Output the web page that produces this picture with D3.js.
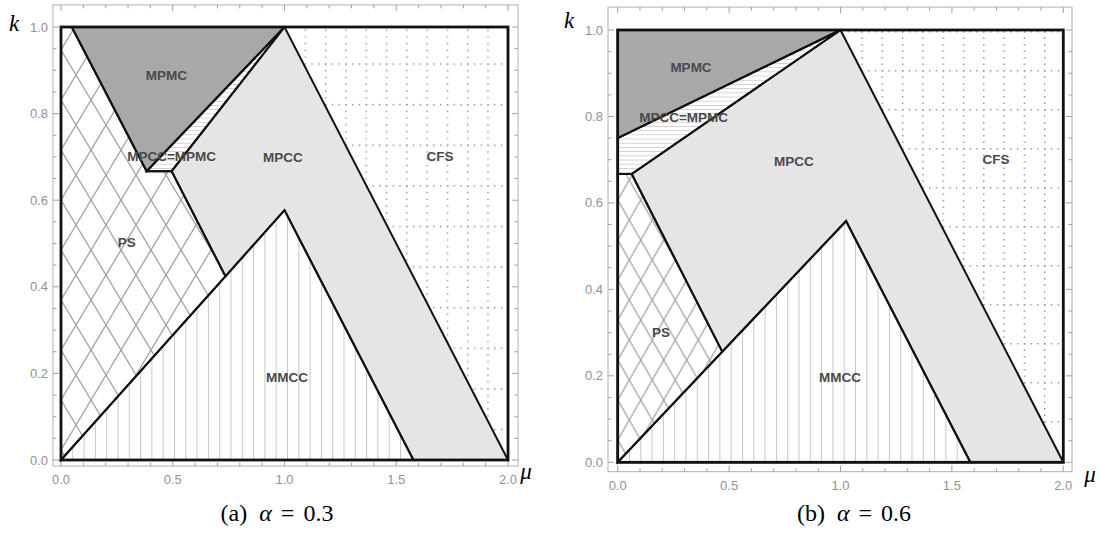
<!DOCTYPE html>
<html>
<head>
<meta charset="utf-8">
<script src="https://cdn.jsdelivr.net/npm/d3@7"></script>
<style>
  body { margin: 0; background: #fff; }
  .tick-label { font-family: "Liberation Sans", Arial, sans-serif; font-size: 13px; fill: #929292; }
  .region-label { font-family: "Liberation Sans", Arial, sans-serif; font-size: 13.5px; font-weight: bold; fill: #4a4a4a; }
  .caption { font-family: "Liberation Serif", "Times New Roman", serif; font-size: 24px; fill: #000; }
  .axis-name { font-family: "Liberation Serif", "Times New Roman", serif; font-size: 23px; font-style: italic; fill: #000; }
</style>
</head>
<body>
<svg id="chart" width="1100" height="535"></svg>
<script>
////////////////////////////////////////////////////////////////////////
// Data: region vertices are [mu, k] pairs

let xTicks = [0, 0.5, 1.0, 1.5, 2.0];
let yTicks = [0, 0.2, 0.4, 0.6, 0.8, 1.0];

// panel (a), alpha = 0.3
let mpmcA   = [[0.048, 1], [1, 1], [0.383, 0.667]];
let stripA  = [[1, 1], [0.383, 0.667], [0.495, 0.667]];
let psA     = [[0, 1], [0.048, 1], [0.383, 0.667], [0.495, 0.667], [0.736, 0.424], [0, 0]];
let mpccA   = [[0.495, 0.667], [1, 1], [2, 0], [1.577, 0], [1, 0.577], [0.736, 0.424]];
let cfsA    = [[1, 1], [2, 1], [2, 0]];
let mmccA   = [[0, 0], [1, 0.577], [1.577, 0]];
let labelsA = [
  {text: "MPMC",      at: [0.472, 0.888]},
  {text: "MPCC=MPMC", at: [0.495, 0.701]},
  {text: "MPCC",      at: [0.993, 0.700]},
  {text: "CFS",       at: [1.696, 0.702]},
  {text: "PS",        at: [0.294, 0.502]},
  {text: "MMCC",      at: [1.011, 0.192]}
];

// panel (b), alpha = 0.6
let mpmcB   = [[0, 1], [1, 1], [0, 0.75]];
let stripB  = [[0, 0.75], [1, 1], [0.063, 0.667], [0, 0.667]];
let psB     = [[0, 0.667], [0.063, 0.667], [0.469, 0.256], [0, 0]];
let mpccB   = [[0.063, 0.667], [1, 1], [2, 0], [1.583, 0], [1.025, 0.558], [0.469, 0.256]];
let cfsB    = [[1, 1], [2, 1], [2, 0]];
let mmccB   = [[0, 0], [1.025, 0.558], [1.583, 0]];
let labelsB = [
  {text: "MPMC",      at: [0.329, 0.915]},
  {text: "MPCC=MPMC", at: [0.296, 0.799]},
  {text: "MPCC",      at: [0.791, 0.697]},
  {text: "CFS",       at: [1.698, 0.702]},
  {text: "PS",        at: [0.194, 0.300]},
  {text: "MMCC",      at: [0.998, 0.197]}
];

////////////////////////////////////////////////////////////////////////
// Layout of the two panels (pixel boxes of the data range and frame)

let panels = [
  {id: "a", caption: "0.3", xRange: [61, 508], yRange: [460, 27],
   frame: {x0: -0.036, x1: 2.045, y0: -0.014, y1: 1.051},
   gridY0: 63.3, gridH: 40.6, crossW: 30, crossH: 50,
   regions: {mpmc: mpmcA, strip: stripA, ps: psA, mpcc: mpccA, cfs: cfsA, mmcc: mmccA},
   labels: labelsA, capX: 277, kPos: [14, 31], muPos: [526, 479]},
  {id: "b", caption: "0.6", xRange: [617.7, 1063.3], yRange: [462.3, 30],
   frame: {x0: -0.0435, x1: 2.039, y0: -0.0217, y1: 1.053},
   gridY0: 70, gridH: 39, crossW: 23, crossH: 40,
   regions: {mpmc: mpmcB, strip: stripB, ps: psB, mpcc: mpccB, cfs: cfsB, mmcc: mmccB},
   labels: labelsB, capX: 854, kPos: [569, 28], muPos: [1090, 482]}
];

let svg = d3.select("#chart");
let defs = svg.append("defs");

// pattern helpers, all in user space so they line up with the panel
function addPattern(id, w, h, x, y) {
  return defs.append("pattern")
    .attr("id", id)
    .attr("patternUnits", "userSpaceOnUse")
    .attr("width", w).attr("height", h)
    .attr("x", x).attr("y", y);
}

function makePatterns(p, xScale) {
  // vertical light lines (MMCC)
  addPattern("vert-" + p.id, 11.3, 10, xScale(0), 0)
    .append("line")
    .attr("x1", 0).attr("x2", 0).attr("y1", 0).attr("y2", 10)
    .attr("stroke", "#c6c6c6").attr("stroke-width", 2);

  // horizontal hatch (MPCC=MPMC)
  addPattern("horiz-" + p.id, 10, 4.2, 0, 0)
    .append("line")
    .attr("x1", 0).attr("x2", 10).attr("y1", 0).attr("y2", 0)
    .attr("stroke", "#8a8a8a").attr("stroke-width", 0.8);

  // diamond cross hatch (PS)
  let w = p.crossW, h = p.crossH;
  let cross = addPattern("cross-" + p.id, w, h, xScale(0), 0);
  [-1, 0, 1].forEach(function(s) {
    cross.append("line")
      .attr("x1", s * w).attr("y1", 0).attr("x2", s * w + w).attr("y2", h)
      .attr("stroke", "#a3a3a3").attr("stroke-width", 1.3);
    cross.append("line")
      .attr("x1", s * w).attr("y1", h).attr("x2", s * w + w).attr("y2", 0)
      .attr("stroke", "#a3a3a3").attr("stroke-width", 1.3);
  });

  // dotted grid (CFS)
  let gw = 20.3, gh = p.gridH;
  let grid = addPattern("grid-" + p.id, gw, gh, xScale(0), p.gridY0);
  grid.append("rect").attr("width", gw).attr("height", gh).attr("fill", "#fff");
  grid.append("line")
    .attr("x1", 0.7).attr("x2", 0.7).attr("y1", 0).attr("y2", gh)
    .attr("stroke", "#8f8f8f").attr("stroke-width", 1.4)
    .attr("stroke-dasharray", "1.4," + (gh / 6 - 1.4));
  grid.append("line")
    .attr("x1", 0).attr("x2", gw).attr("y1", 0.7).attr("y2", 0.7)
    .attr("stroke", "#8f8f8f").attr("stroke-width", 1.4)
    .attr("stroke-dasharray", "1.4," + (gw / 3 - 1.4));
}

function drawPanel(p) {
  let xScale = d3.scaleLinear().domain([0, 2]).range(p.xRange);
  let yScale = d3.scaleLinear().domain([0, 1]).range(p.yRange);
  let line = d3.line().x(d => xScale(d[0])).y(d => yScale(d[1]));
  let poly = pts => line(pts) + "Z";

  makePatterns(p, xScale);
  let g = svg.append("g");

  // frame
  let fx0 = xScale(p.frame.x0), fx1 = xScale(p.frame.x1);
  let fy0 = yScale(p.frame.y0), fy1 = yScale(p.frame.y1);
  g.append("rect")
    .attr("x", fx0).attr("y", fy1)
    .attr("width", fx1 - fx0).attr("height", fy0 - fy1)
    .attr("fill", "none").attr("stroke", "#b0b0b0").attr("stroke-width", 1);

  // frame ticks, inward on all four sides
  let xMinor = d3.range(0, 2.0001, 0.1);
  let yMinor = d3.range(0, 1.0001, 0.05);
  let tickG = g.append("g").attr("stroke", "#a0a0a0").attr("stroke-width", 1);
  xMinor.forEach(function(v) {
    let major = xTicks.some(t => Math.abs(t - v) < 1e-6);
    let len = major ? 6 : 3.5;
    tickG.append("line").attr("x1", xScale(v)).attr("x2", xScale(v))
      .attr("y1", fy0).attr("y2", fy0 - len);
    tickG.append("line").attr("x1", xScale(v)).attr("x2", xScale(v))
      .attr("y1", fy1).attr("y2", fy1 + len);
  });
  yMinor.forEach(function(v) {
    let major = yTicks.some(t => Math.abs(t - v) < 1e-6);
    let len = major ? 6 : 3.5;
    tickG.append("line").attr("y1", yScale(v)).attr("y2", yScale(v))
      .attr("x1", fx0).attr("x2", fx0 + len);
    tickG.append("line").attr("y1", yScale(v)).attr("y2", yScale(v))
      .attr("x1", fx1).attr("x2", fx1 - len);
  });

  // tick labels
  g.selectAll(".xl").data(xTicks).enter().append("text")
    .attr("class", "tick-label")
    .attr("x", d => xScale(d)).attr("y", fy0 + 18)
    .attr("text-anchor", "middle")
    .text(d => d.toFixed(1));
  g.selectAll(".yl").data(yTicks).enter().append("text")
    .attr("class", "tick-label")
    .attr("x", fx0 - 5).attr("y", d => yScale(d) + 4.5)
    .attr("text-anchor", "end")
    .text(d => d.toFixed(1));

  // filled regions
  let r = p.regions;
  let fills = [
    [r.cfs,   "url(#grid-" + p.id + ")"],
    [r.mmcc,  "url(#vert-" + p.id + ")"],
    [r.ps,    "url(#cross-" + p.id + ")"],
    [r.mpcc,  "#e5e5e5"],
    [r.mpmc,  "#a8a8a8"],
    [r.strip, "url(#horiz-" + p.id + ")"]
  ];
  fills.forEach(function(f) {
    g.append("path").attr("d", poly(f[0])).attr("fill", f[1]).attr("stroke", "none");
  });
  // region borders
  [r.mmcc, r.ps, r.mpcc, r.mpmc, r.strip].forEach(function(pts) {
    g.append("path").attr("d", poly(pts))
      .attr("fill", "none").attr("stroke", "#111")
      .attr("stroke-width", 2).attr("stroke-linejoin", "miter");
  });
  // outer data box
  g.append("rect")
    .attr("x", xScale(0)).attr("y", yScale(1))
    .attr("width", xScale(2) - xScale(0)).attr("height", yScale(0) - yScale(1))
    .attr("fill", "none").attr("stroke", "#111").attr("stroke-width", 2.8);

  // region labels
  g.selectAll(".rl").data(p.labels).enter().append("text")
    .attr("class", "region-label")
    .attr("x", d => xScale(d.at[0])).attr("y", d => yScale(d.at[1]))
    .attr("dy", "0.36em")
    .attr("text-anchor", "middle")
    .text(d => d.text);

  // axis names
  g.append("text").attr("class", "axis-name")
    .attr("x", p.kPos[0]).attr("y", p.kPos[1])
    .attr("text-anchor", "middle")
    .text("k");
  g.append("text").attr("class", "axis-name")
    .attr("x", p.muPos[0]).attr("y", p.muPos[1])
    .attr("text-anchor", "middle")
    .text("\u03bc");

  // caption, with the wider spacing of an equation editor
  let cap = g.append("text").attr("class", "caption")
    .attr("x", p.capX).attr("y", 521)
    .attr("text-anchor", "middle");
  cap.append("tspan").text("(" + p.id + ")");
  cap.append("tspan").attr("dx", 12).style("font-style", "italic").text("\u03b1");
  cap.append("tspan").attr("dx", 9).text("=");
  cap.append("tspan").attr("dx", 9).text(p.caption);
}

panels.forEach(drawPanel);
</script>
</body>
</html>
